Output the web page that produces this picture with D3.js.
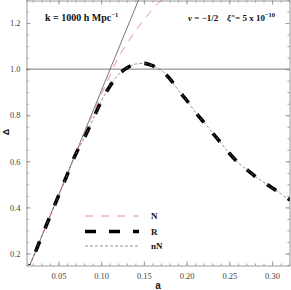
<!DOCTYPE html>
<html><head><meta charset="utf-8">
<script src="https://cdn.jsdelivr.net/npm/d3@7"></script>
<style>body{margin:0;background:#fff}svg{display:block}</style></head>
<body><svg id="c" width="291" height="290"></svg>
<script>
// ---- data ----
const xTickVals = [0.05, 0.10, 0.15, 0.20, 0.25, 0.30];
const xTickLabels = ["0.05", "0.10", "0.15", "0.20", "0.25", "0.30"];
const yTickVals = [0.2, 0.4, 0.6, 0.8, 1.0, 1.2];
const yTickLabels = ["0.2", "0.4", "0.6", "0.8", "1.0", "1.2"];

// linear growth (solid)
const linA = [0.012, 0.05, 0.10, 0.15];
const linD = [0.109, 0.452, 0.905, 1.357];

// N (red dashed)
const nA = [0.012, 0.03, 0.05, 0.07, 0.09, 0.10, 0.11, 0.12, 0.13, 0.14, 0.15, 0.16, 0.17];
const nD = [0.109, 0.27, 0.45, 0.63, 0.805, 0.89, 0.97, 1.05, 1.11, 1.165, 1.215, 1.258, 1.30];

// R (thick black dashed) and nN (thin gray dashed) - same curve
const rA = [0.012, 0.02, 0.03, 0.04, 0.05, 0.06, 0.07, 0.08, 0.09, 0.10, 0.11, 0.12, 0.13, 0.14, 0.15, 0.16,
            0.17, 0.18, 0.19, 0.20, 0.21, 0.22, 0.23, 0.24, 0.25, 0.26, 0.27, 0.28, 0.29, 0.30, 0.31, 0.32, 0.321];
const rD = [0.108, 0.18, 0.27, 0.36, 0.45, 0.54, 0.63, 0.70, 0.78, 0.86, 0.925, 0.975, 1.005, 1.022, 1.025, 1.015,
            0.995, 0.96, 0.91, 0.865, 0.815, 0.77, 0.725, 0.68, 0.635, 0.595, 0.565, 0.535, 0.51, 0.485, 0.46, 0.435, 0.433];
const nnA = rA, nnD = rD;

const legendLabels = ["N", "R", "nN"];

// ---- layout ----
const L = 26, R = 290, T = 0, B = 265;
const svg = d3.select("#c");
const x = d3.scaleLinear().domain([0.012, 0.321]).range([L, R]);
const y = d3.scaleLinear().domain([0.15, 1.3]).range([B, T]);

svg.append("defs").append("clipPath").attr("id", "clip")
  .append("rect").attr("x", L).attr("y", T).attr("width", R - L).attr("height", B - T);

const frameCol = "#9a9a9a";
const labCol = "#444";
const serif = "'Liberation Serif','DejaVu Serif',serif";

// minor ticks
const xMinor = d3.range(0.02, 0.3201, 0.01);
const yMinor = d3.range(0.15, 1.3001, 0.05);

const g = svg.append("g");
// bottom axis
const xAxisB = d3.axisBottom(x).tickValues(xTickVals).tickFormat((d, i) => xTickLabels[i]).tickSizeInner(-4).tickSizeOuter(0).tickPadding(7);
const gx = g.append("g").attr("transform", `translate(0,${B + 0.5})`).call(xAxisB);
gx.select(".domain").attr("stroke", frameCol);
gx.selectAll(".tick line").attr("stroke", frameCol);
gx.selectAll("text").attr("fill", labCol).attr("font-family", serif).attr("font-size", 8.5);
g.append("g").attr("transform", `translate(0,${B + 0.5})`)
  .call(d3.axisBottom(x).tickValues(xMinor).tickFormat("").tickSizeInner(-2).tickSizeOuter(0))
  .call(s => { s.select(".domain").remove(); s.selectAll("line").attr("stroke", frameCol); });
// top axis
g.append("g").attr("transform", `translate(0,${T + 0.5})`)
  .call(d3.axisTop(x).tickValues(xTickVals).tickFormat("").tickSizeInner(-4).tickSizeOuter(0))
  .call(s => { s.select(".domain").attr("stroke", frameCol); s.selectAll("line").attr("stroke", frameCol); });
g.append("g").attr("transform", `translate(0,${T + 0.5})`)
  .call(d3.axisTop(x).tickValues(xMinor).tickFormat("").tickSizeInner(-2).tickSizeOuter(0))
  .call(s => { s.select(".domain").remove(); s.selectAll("line").attr("stroke", frameCol); });
// left axis
const gy = g.append("g").attr("transform", `translate(${L + 0.5},0)`)
  .call(d3.axisLeft(y).tickValues(yTickVals).tickFormat((d, i) => yTickLabels[i]).tickSizeInner(-4).tickSizeOuter(0).tickPadding(6));
gy.select(".domain").attr("stroke", frameCol);
gy.selectAll(".tick line").attr("stroke", frameCol);
gy.selectAll("text").attr("fill", labCol).attr("font-family", serif).attr("font-size", 8.5);
g.append("g").attr("transform", `translate(${L + 0.5},0)`)
  .call(d3.axisLeft(y).tickValues(yMinor).tickFormat("").tickSizeInner(-2).tickSizeOuter(0))
  .call(s => { s.select(".domain").remove(); s.selectAll("line").attr("stroke", frameCol); });
// right axis
g.append("g").attr("transform", `translate(${R - 0.5},0)`)
  .call(d3.axisRight(y).tickValues(yTickVals).tickFormat("").tickSizeInner(-4).tickSizeOuter(0))
  .call(s => { s.select(".domain").attr("stroke", frameCol); s.selectAll("line").attr("stroke", frameCol); });
g.append("g").attr("transform", `translate(${R - 0.5},0)`)
  .call(d3.axisRight(y).tickValues(yMinor).tickFormat("").tickSizeInner(-2).tickSizeOuter(0))
  .call(s => { s.select(".domain").remove(); s.selectAll("line").attr("stroke", frameCol); });

// reference line at 1
const plot = svg.append("g").attr("clip-path", "url(#clip)");
plot.append("line").attr("x1", L).attr("x2", R).attr("y1", y(1)).attr("y2", y(1))
  .attr("stroke", "#7a7a7a").attr("stroke-width", 1);

const line = d3.line().x(d => x(d[0])).y(d => y(d[1])).curve(d3.curveMonotoneX);
const zip = (a, b) => a.map((v, i) => [v, b[i]]);

plot.append("path").datum(zip(linA, linD)).attr("d", d3.line().x(d => x(d[0])).y(d => y(d[1])))
  .attr("fill", "none").attr("stroke", "#555").attr("stroke-width", 0.8);
plot.append("path").datum(zip(nA, nD)).attr("d", line)
  .attr("fill", "none").attr("stroke", "#f08080").attr("stroke-width", 0.9).attr("stroke-dasharray", "8,7");
plot.append("path").datum(zip(rA, rD)).attr("d", line)
  .attr("fill", "none").attr("stroke", "#000").attr("stroke-width", 3.6).attr("stroke-dasharray", "11,14");
plot.append("path").datum(zip(nnA, nnD)).attr("d", line)
  .attr("fill", "none").attr("stroke", "#666").attr("stroke-width", 0.7).attr("stroke-dasharray", "3,2");

// legend
const legY = [216, 231.5, 246];
const legStyles = [
  { c: "#f08080", w: 0.9, d: "8,8" },
  { c: "#000", w: 3.6, d: "11,13" },
  { c: "#666", w: 0.7, d: "3,2" }
];
legendLabels.forEach((lab, i) => {
  svg.append("line").attr("x1", 85).attr("x2", 139).attr("y1", legY[i]).attr("y2", legY[i])
    .attr("stroke", legStyles[i].c).attr("stroke-width", legStyles[i].w).attr("stroke-dasharray", legStyles[i].d);
  svg.append("text").attr("x", 151).attr("y", legY[i] + 3.3).text(lab)
    .attr("font-family", serif).attr("font-weight", "bold").attr("font-size", 9).attr("fill", "#111");
});

// annotations
const t1 = svg.append("text").attr("x", 45).attr("y", 21)
  .attr("font-family", serif).attr("font-weight", "bold").attr("font-size", 10).attr("fill", "#111");
t1.append("tspan").text("k = 1000 h Mpc");
t1.append("tspan").text("−1").attr("font-size", 6.5).attr("dy", -4);

const t2 = svg.append("text").attr("x", 188).attr("y", 21)
  .attr("font-family", serif).attr("font-weight", "bold").attr("font-size", 9).attr("fill", "#111");
t2.append("tspan").text("ν").attr("font-style", "italic");
t2.append("tspan").text(" = −1/2");
t2.append("tspan").text("ξ̃").attr("font-style", "italic").attr("x", 227);
t2.append("tspan").text("= 5 x 10").attr("x", 235);
t2.append("tspan").text("−10").attr("font-size", 6.5).attr("dy", -4);

// axis titles
svg.append("text").attr("x", 158).attr("y", 289).attr("text-anchor", "middle")
  .attr("font-family", "'Liberation Sans',Arial,sans-serif").attr("font-weight", "bold").attr("font-size", 10).attr("fill", "#222").text("a");
svg.append("text").attr("transform", `translate(9,132) rotate(-90)`).attr("text-anchor", "middle")
  .attr("font-family", "'Liberation Sans',Arial,sans-serif").attr("font-weight", "bold").attr("font-size", 9).attr("fill", "#222").text("Δ");
</script></body></html>
